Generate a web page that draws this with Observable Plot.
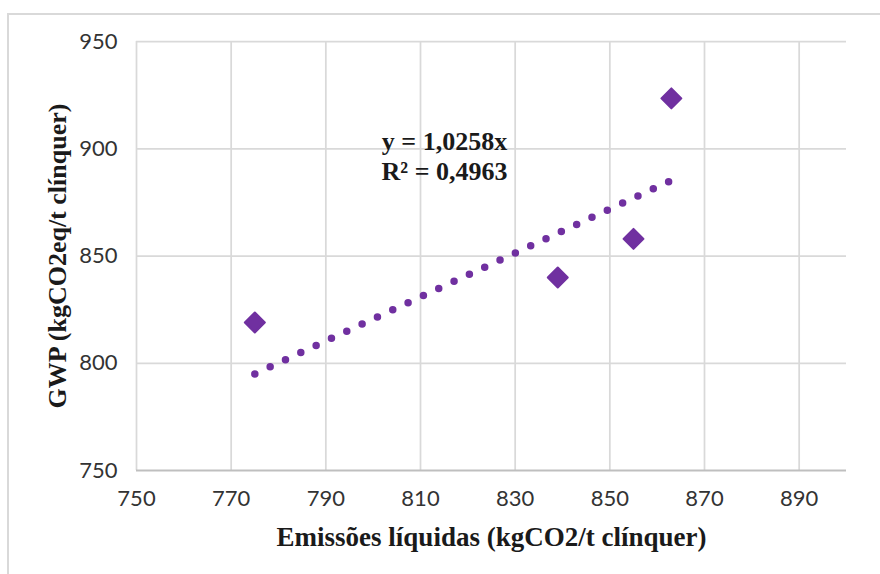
<!DOCTYPE html>
<html><head><meta charset="utf-8">
<script src="https://cdn.jsdelivr.net/npm/d3@7"></script>
<script src="https://cdn.jsdelivr.net/npm/@observablehq/plot@0.6"></script>
<style>
html,body{margin:0;padding:0;background:#fff;overflow:hidden;width:880px;height:574px}
#frame{position:absolute;left:7px;top:13px;width:900px;height:600px;border:2px solid #d9d9d9;box-sizing:border-box}
#chart{position:absolute;left:0;top:0}
</style></head><body>
<div id="frame"></div>
<div id="chart"></div>
<script>
// Data
const emissoes = [775, 839, 855, 863];       // x: Emissões líquidas (kgCO2/t clínquer)
const gwp = [819, 840, 858, 923.5];          // y: GWP (kgCO2eq/t clínquer)
const xTicks = [750, 770, 790, 810, 830, 850, 870, 890];
const yTicks = [750, 800, 850, 900, 950];
const slope = 1.0258;                        // trendline y = 1,0258x
const equationLabels = ["y = 1,0258x", "R² = 0,4963"];
const xTitle = "Emissões líquidas (kgCO2/t clínquer)";
const yTitle = "GWP (kgCO2eq/t clínquer)";

const points = emissoes.map((x, i) => ({x, y: gwp[i]}));
const xMin = d3.min(emissoes), xMax = d3.max(emissoes);
const trend = [xMin, xMax].map(x => ({x, y: slope * x}));

const purple = "#7030A0";
const serif = "'Liberation Serif', 'DejaVu Serif', serif";

const chart = Plot.plot({
  width: 880,
  height: 574,
  marginLeft: 136,
  marginRight: 34,
  marginTop: 41,
  marginBottom: 104,
  style: {background: "transparent", fontFamily: "Lato, 'Open Sans', sans-serif", fontSize: "22px", color: "#333333"},
  x: {domain: [750, 900]},
  y: {domain: [750, 950]},
  marks: [
    Plot.ruleX(xTicks, {stroke: "#d9d9d9", strokeWidth: 1.75}),
    Plot.ruleY(yTicks.filter(d => d !== 750), {stroke: "#d9d9d9", strokeWidth: 1.75}),
    Plot.ruleY([750], {stroke: "#bfbfbf", strokeWidth: 2}),
    Plot.axisX({ticks: xTicks, tickSize: 0, tickPadding: 20, fontSize: 22, tickFormat: "d", label: null}),
    Plot.axisY({ticks: yTicks, tickSize: 0, tickPadding: 19, fontSize: 22, tickFormat: "d", label: null}),
    Plot.line(trend, {x: "x", y: "y", stroke: purple, strokeWidth: 7.5, strokeDasharray: "0 16.9", strokeLinecap: "round"}),
    Plot.dot(points, {x: "x", y: "y", symbol: "diamond2", r: 9, fill: purple, stroke: purple, strokeWidth: 2, strokeLinejoin: "round"}),
    Plot.text([equationLabels.join("\n")], {frameAnchor: "top-left", dx: 308, dy: 114, textAnchor: "middle", lineAnchor: "middle", lineHeight: 1.15, fontFamily: serif, fontWeight: "bold", fontSize: 26, fill: "#1a1a1a"}),
    Plot.text([xTitle], {frameAnchor: "bottom", dy: 67, lineAnchor: "middle", fontFamily: serif, fontWeight: "bold", fontSize: 27, fill: "#1a1a1a"}),
    Plot.text([yTitle], {frameAnchor: "left", dx: -79, rotate: -90, textAnchor: "middle", lineAnchor: "middle", fontFamily: serif, fontWeight: "bold", fontSize: 26, fill: "#1a1a1a"})
  ]
});
document.getElementById("chart").appendChild(chart);
</script>
</body></html>
